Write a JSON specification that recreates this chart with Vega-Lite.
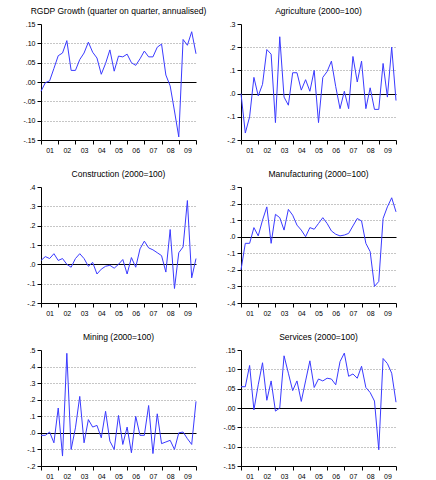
{
  "$schema": "https://vega.github.io/schema/vega-lite/v6.json",
  "padding": {"left": 22, "top": 6, "right": 5, "bottom": 5},
  "background": "white",
  "data": {"values": [
    {"t": 2001.00, "rgdp": -0.024, "agri": 0.0, "cons": 0.02, "manu": -0.2, "mine": -0.015, "serv": 0.055},
    {"t": 2001.25, "rgdp": -0.002, "agri": -0.17, "cons": 0.04, "manu": -0.04, "mine": -0.015, "serv": 0.055},
    {"t": 2001.50, "rgdp": 0.003, "agri": -0.10, "cons": 0.03, "manu": -0.04, "mine": 0.005, "serv": 0.11},
    {"t": 2001.75, "rgdp": 0.035, "agri": 0.07, "cons": 0.055, "manu": 0.055, "mine": -0.06, "serv": -0.005},
    {"t": 2002.00, "rgdp": 0.068, "agri": -0.01, "cons": 0.02, "manu": 0.005, "mine": 0.15, "serv": 0.06},
    {"t": 2002.25, "rgdp": 0.075, "agri": 0.04, "cons": 0.03, "manu": 0.1, "mine": -0.14, "serv": 0.117},
    {"t": 2002.50, "rgdp": 0.107, "agri": 0.19, "cons": 0.0, "manu": 0.18, "mine": 0.48, "serv": 0.02},
    {"t": 2002.75, "rgdp": 0.03, "agri": 0.17, "cons": -0.015, "manu": -0.04, "mine": -0.1, "serv": 0.07},
    {"t": 2003.00, "rgdp": 0.03, "agri": -0.125, "cons": 0.03, "manu": 0.135, "mine": 0.03, "serv": -0.008},
    {"t": 2003.25, "rgdp": 0.058, "agri": 0.245, "cons": 0.055, "manu": 0.115, "mine": 0.22, "serv": 0.0},
    {"t": 2003.50, "rgdp": 0.075, "agri": -0.015, "cons": 0.03, "manu": 0.04, "mine": -0.06, "serv": 0.135},
    {"t": 2003.75, "rgdp": 0.103, "agri": -0.05, "cons": -0.01, "manu": 0.165, "mine": 0.08, "serv": 0.09},
    {"t": 2004.00, "rgdp": 0.077, "agri": 0.09, "cons": 0.01, "manu": 0.13, "mine": 0.035, "serv": 0.045},
    {"t": 2004.25, "rgdp": 0.062, "agri": 0.09, "cons": -0.05, "manu": 0.07, "mine": 0.045, "serv": 0.07},
    {"t": 2004.50, "rgdp": 0.02, "agri": 0.015, "cons": -0.025, "manu": 0.04, "mine": -0.03, "serv": 0.017},
    {"t": 2004.75, "rgdp": 0.048, "agri": 0.06, "cons": -0.01, "manu": 0.0, "mine": 0.13, "serv": 0.07},
    {"t": 2005.00, "rgdp": 0.083, "agri": 0.01, "cons": -0.005, "manu": 0.055, "mine": -0.05, "serv": 0.122},
    {"t": 2005.25, "rgdp": 0.028, "agri": 0.10, "cons": -0.02, "manu": 0.045, "mine": -0.1, "serv": 0.053},
    {"t": 2005.50, "rgdp": 0.067, "agri": -0.125, "cons": 0.0, "manu": 0.08, "mine": 0.105, "serv": 0.075},
    {"t": 2005.75, "rgdp": 0.065, "agri": 0.07, "cons": 0.025, "manu": 0.115, "mine": -0.07, "serv": 0.07},
    {"t": 2006.00, "rgdp": 0.072, "agri": 0.095, "cons": -0.05, "manu": 0.08, "mine": 0.035, "serv": 0.077},
    {"t": 2006.25, "rgdp": 0.05, "agri": 0.14, "cons": 0.035, "manu": 0.035, "mine": -0.12, "serv": 0.075},
    {"t": 2006.50, "rgdp": 0.043, "agri": 0.03, "cons": -0.015, "manu": 0.015, "mine": 0.1, "serv": 0.06},
    {"t": 2006.75, "rgdp": 0.06, "agri": -0.065, "cons": 0.08, "manu": 0.005, "mine": -0.015, "serv": 0.12},
    {"t": 2007.00, "rgdp": 0.08, "agri": 0.01, "cons": 0.12, "manu": 0.01, "mine": -0.015, "serv": 0.142},
    {"t": 2007.25, "rgdp": 0.065, "agri": -0.065, "cons": 0.085, "manu": 0.02, "mine": 0.165, "serv": 0.082},
    {"t": 2007.50, "rgdp": 0.065, "agri": 0.16, "cons": 0.075, "manu": 0.065, "mine": -0.125, "serv": 0.088},
    {"t": 2007.75, "rgdp": 0.09, "agri": 0.05, "cons": 0.06, "manu": 0.11, "mine": 0.115, "serv": 0.077},
    {"t": 2008.00, "rgdp": 0.098, "agri": 0.14, "cons": 0.045, "manu": 0.095, "mine": -0.065, "serv": 0.108},
    {"t": 2008.25, "rgdp": 0.018, "agri": -0.065, "cons": -0.04, "manu": -0.04, "mine": -0.055, "serv": 0.053},
    {"t": 2008.50, "rgdp": -0.01, "agri": 0.025, "cons": 0.18, "manu": -0.09, "mine": -0.045, "serv": 0.04},
    {"t": 2008.75, "rgdp": -0.075, "agri": -0.068, "cons": -0.125, "manu": -0.3, "mine": -0.1, "serv": 0.018},
    {"t": 2009.00, "rgdp": -0.142, "agri": -0.068, "cons": 0.06, "manu": -0.27, "mine": 0.0, "serv": -0.108},
    {"t": 2009.25, "rgdp": 0.11, "agri": 0.13, "cons": 0.09, "manu": 0.11, "mine": 0.005, "serv": 0.128},
    {"t": 2009.50, "rgdp": 0.095, "agri": -0.015, "cons": 0.33, "manu": 0.18, "mine": -0.035, "serv": 0.115},
    {"t": 2009.75, "rgdp": 0.13, "agri": 0.2, "cons": -0.07, "manu": 0.235, "mine": -0.07, "serv": 0.09},
    {"t": 2010.00, "rgdp": 0.073, "agri": -0.03, "cons": 0.03, "manu": 0.15, "mine": 0.19, "serv": 0.015}
  ]},
  "columns": 2,
  "bounds": "flush",
  "spacing": {"row": 47, "column": 45},
  "concat": [
    {
      "title": "RGDP Growth (quarter on quarter, annualised)",
      "width": 155, "height": 116,
      "mark": {"type": "line", "color": "#3a3aff", "strokeWidth": 1},
      "encoding": {
        "x": {"field": "t", "type": "quantitative", "scale": {"domain": [2001, 2010], "nice": false, "zero": false},
              "axis": {"title": null, "values": [2001,2002,2003,2004,2005,2006,2007,2008,2009,2010], "labelExpr": "datum.value < 2010 ? substring(toString(datum.value), 2, 4) : ''", "labelOffset": 8.6, "labelFlush": false, "labelOverlap": false, "grid": false}},
        "y": {"field": "rgdp", "type": "quantitative", "scale": {"domain": [-0.15, 0.15], "nice": false, "zero": false},
              "axis": {"title": null, "values": [-0.15,-0.1,-0.05,0,0.05,0.1,0.15], "tickCount": 7, "labelExpr": "(datum.value < -0.0001 ? '-' : '') + replace(format(abs(datum.value), '.2f'), '0.', '.')", "labelOverlap": false, "labelFlush": false,
                       "gridColor": {"condition": {"test": "abs(datum.value) < 0.0001", "value": "black"}, "value": "#8c8c8c"},
                       "gridDash": {"condition": {"test": "abs(datum.value) < 0.0001", "value": []}, "value": [1, 2]},
                       "gridOpacity": {"condition": {"test": "datum.value > 0.149", "value": 0}, "value": 1}}}
      }
    },
    {
      "title": "Agriculture (2000=100)",
      "width": 155, "height": 116,
      "mark": {"type": "line", "color": "#3a3aff", "strokeWidth": 1},
      "encoding": {
        "x": {"field": "t", "type": "quantitative", "scale": {"domain": [2001, 2010], "nice": false, "zero": false},
              "axis": {"title": null, "values": [2001,2002,2003,2004,2005,2006,2007,2008,2009,2010], "labelExpr": "datum.value < 2010 ? substring(toString(datum.value), 2, 4) : ''", "labelOffset": 8.6, "labelFlush": false, "labelOverlap": false, "grid": false}},
        "y": {"field": "agri", "type": "quantitative", "scale": {"domain": [-0.2, 0.3], "nice": false, "zero": false},
              "axis": {"title": null, "values": [-0.2,-0.1,0,0.1,0.2,0.3], "tickCount": 6, "labelExpr": "(datum.value < -0.0001 ? '-' : '') + replace(format(abs(datum.value), '.1f'), '0.', '.')", "labelOverlap": false, "labelFlush": false,
                       "gridColor": {"condition": {"test": "abs(datum.value) < 0.0001", "value": "black"}, "value": "#8c8c8c"},
                       "gridDash": {"condition": {"test": "abs(datum.value) < 0.0001", "value": []}, "value": [1, 2]},
                       "gridOpacity": {"condition": {"test": "datum.value > 0.299", "value": 0}, "value": 1}}}
      }
    },
    {
      "title": "Construction (2000=100)",
      "width": 155, "height": 116,
      "mark": {"type": "line", "color": "#3a3aff", "strokeWidth": 1},
      "encoding": {
        "x": {"field": "t", "type": "quantitative", "scale": {"domain": [2001, 2010], "nice": false, "zero": false},
              "axis": {"title": null, "values": [2001,2002,2003,2004,2005,2006,2007,2008,2009,2010], "labelExpr": "datum.value < 2010 ? substring(toString(datum.value), 2, 4) : ''", "labelOffset": 8.6, "labelFlush": false, "labelOverlap": false, "grid": false}},
        "y": {"field": "cons", "type": "quantitative", "scale": {"domain": [-0.2, 0.4], "nice": false, "zero": false},
              "axis": {"title": null, "values": [-0.2,-0.1,0,0.1,0.2,0.3,0.4], "tickCount": 7, "labelExpr": "(datum.value < -0.0001 ? '-' : '') + replace(format(abs(datum.value), '.1f'), '0.', '.')", "labelOverlap": false, "labelFlush": false,
                       "gridColor": {"condition": {"test": "abs(datum.value) < 0.0001", "value": "black"}, "value": "#8c8c8c"},
                       "gridDash": {"condition": {"test": "abs(datum.value) < 0.0001", "value": []}, "value": [1, 2]},
                       "gridOpacity": {"condition": {"test": "datum.value > 0.399", "value": 0}, "value": 1}}}
      }
    },
    {
      "title": "Manufacturing (2000=100)",
      "width": 155, "height": 116,
      "mark": {"type": "line", "color": "#3a3aff", "strokeWidth": 1},
      "encoding": {
        "x": {"field": "t", "type": "quantitative", "scale": {"domain": [2001, 2010], "nice": false, "zero": false},
              "axis": {"title": null, "values": [2001,2002,2003,2004,2005,2006,2007,2008,2009,2010], "labelExpr": "datum.value < 2010 ? substring(toString(datum.value), 2, 4) : ''", "labelOffset": 8.6, "labelFlush": false, "labelOverlap": false, "grid": false}},
        "y": {"field": "manu", "type": "quantitative", "scale": {"domain": [-0.4, 0.3], "nice": false, "zero": false},
              "axis": {"title": null, "values": [-0.4,-0.3,-0.2,-0.1,0,0.1,0.2,0.3], "tickCount": 8, "labelExpr": "(datum.value < -0.0001 ? '-' : '') + replace(format(abs(datum.value), '.1f'), '0.', '.')", "labelOverlap": false, "labelFlush": false,
                       "gridColor": {"condition": {"test": "abs(datum.value) < 0.0001", "value": "black"}, "value": "#8c8c8c"},
                       "gridDash": {"condition": {"test": "abs(datum.value) < 0.0001", "value": []}, "value": [1, 2]},
                       "gridOpacity": {"condition": {"test": "datum.value > 0.299", "value": 0}, "value": 1}}}
      }
    },
    {
      "title": "Mining (2000=100)",
      "width": 155, "height": 116,
      "mark": {"type": "line", "color": "#3a3aff", "strokeWidth": 1},
      "encoding": {
        "x": {"field": "t", "type": "quantitative", "scale": {"domain": [2001, 2010], "nice": false, "zero": false},
              "axis": {"title": null, "values": [2001,2002,2003,2004,2005,2006,2007,2008,2009,2010], "labelExpr": "datum.value < 2010 ? substring(toString(datum.value), 2, 4) : ''", "labelOffset": 8.6, "labelFlush": false, "labelOverlap": false, "grid": false}},
        "y": {"field": "mine", "type": "quantitative", "scale": {"domain": [-0.2, 0.5], "nice": false, "zero": false},
              "axis": {"title": null, "values": [-0.2,-0.1,0,0.1,0.2,0.3,0.4,0.5], "tickCount": 8, "labelExpr": "(datum.value < -0.0001 ? '-' : '') + replace(format(abs(datum.value), '.1f'), '0.', '.')", "labelOverlap": false, "labelFlush": false,
                       "gridColor": {"condition": {"test": "abs(datum.value) < 0.0001", "value": "black"}, "value": "#8c8c8c"},
                       "gridDash": {"condition": {"test": "abs(datum.value) < 0.0001", "value": []}, "value": [1, 2]},
                       "gridOpacity": {"condition": {"test": "datum.value > 0.499", "value": 0}, "value": 1}}}
      }
    },
    {
      "title": "Services (2000=100)",
      "width": 155, "height": 116,
      "mark": {"type": "line", "color": "#3a3aff", "strokeWidth": 1},
      "encoding": {
        "x": {"field": "t", "type": "quantitative", "scale": {"domain": [2001, 2010], "nice": false, "zero": false},
              "axis": {"title": null, "values": [2001,2002,2003,2004,2005,2006,2007,2008,2009,2010], "labelExpr": "datum.value < 2010 ? substring(toString(datum.value), 2, 4) : ''", "labelOffset": 8.6, "labelFlush": false, "labelOverlap": false, "grid": false}},
        "y": {"field": "serv", "type": "quantitative", "scale": {"domain": [-0.15, 0.15], "nice": false, "zero": false},
              "axis": {"title": null, "values": [-0.15,-0.1,-0.05,0,0.05,0.1,0.15], "tickCount": 7, "labelExpr": "(datum.value < -0.0001 ? '-' : '') + replace(format(abs(datum.value), '.2f'), '0.', '.')", "labelOverlap": false, "labelFlush": false,
                       "gridColor": {"condition": {"test": "abs(datum.value) < 0.0001", "value": "black"}, "value": "#8c8c8c"},
                       "gridDash": {"condition": {"test": "abs(datum.value) < 0.0001", "value": []}, "value": [1, 2]},
                       "gridOpacity": {"condition": {"test": "datum.value > 0.149", "value": 0}, "value": 1}}}
      }
    }
  ],
  "config": {
    "view": {"stroke": null},
    "font": "Liberation Sans",
    "title": {"fontSize": 8.5, "fontWeight": "normal", "color": "black", "font": "Liberation Sans", "offset": 5, "anchor": "middle"},
    "axis": {"domainColor": "black", "tickColor": "black", "labelColor": "black", "labelFont": "Liberation Sans", "labelFontSize": 7, "tickSize": 4, "labelPadding": 2, "domainWidth": 1, "tickWidth": 1},
    "axisY": {"grid": true, "gridWidth": 1},
    "axisX": {"grid": false}
  }
}
